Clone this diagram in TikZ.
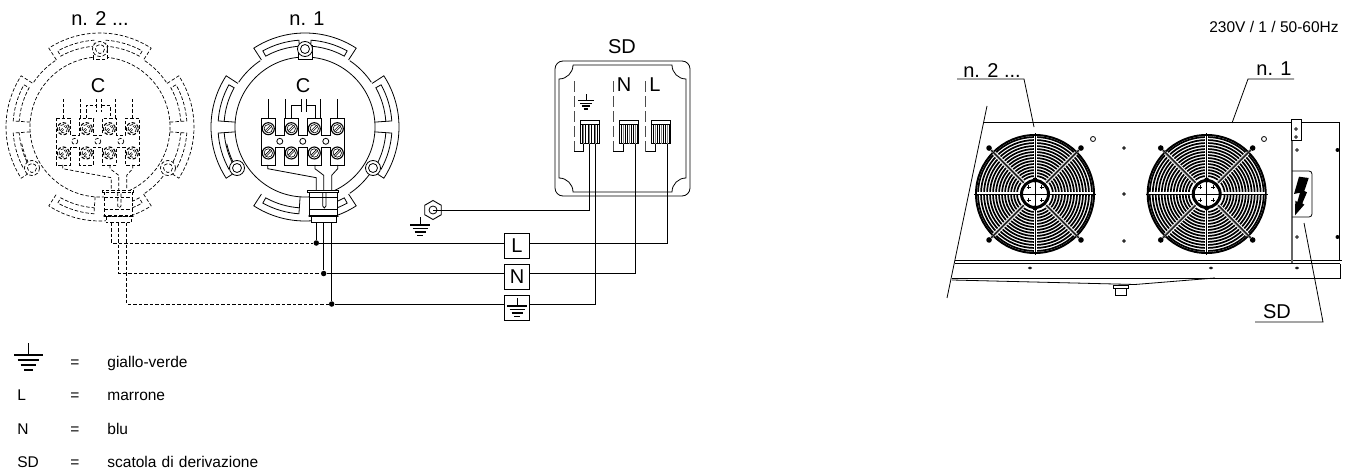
\documentclass[tikz,border=0pt]{standalone}
\usepackage{fontspec}
\setmainfont{Liberation Sans}
\usetikzlibrary{matrix,calc,positioning,shapes.geometric}
\newcommand{\lblfont}{\fontsize{20}{22}\selectfont}
\newcommand{\txtfont}{\fontsize{15.5}{17}\selectfont}
\tikzset{
    dashsty/.style={line width=.7pt,dash pattern=on 3.5pt off 2pt},
    sepsty/.style={line width=.7pt,draw=black!70,dash pattern=on 11pt off 4pt},
    dotsty/.style={fill,circle,inner sep=0pt,minimum size=5.5pt},
    boxsty/.style={draw,line width=.9pt,rectangle,minimum size=25.5pt,inner sep=0pt,font=\lblfont},
    lblsty/.style={inner sep=0pt,font=\lblfont},
    hexsty/.style={draw,line width=.9pt,regular polygon,regular polygon sides=6,shape border rotate=30,minimum size=19pt,inner sep=0pt},
    lgdsty/.style={inner sep=0pt,text height=11pt,text depth=3pt,anchor=west,align=left,font=\txtfont},
    pics/gndsym/.style={code={
        \draw[line width=.9pt] (0,-8) -- (0,0);
        \draw[line width=1.5pt] (-10,0) -- (10,0) (-7.5,3.5) -- (7.5,3.5) (-5.5,7) -- (5.5,7) (-3,10.5) -- (3,10.5);
    }},
    pics/jbox/.style={code={
        \draw (0,0) circle (70);
        % lobes
        \foreach \a in {0,90,180,270} {
            \draw (\a-33:80) -- (\a-33:94) arc[start angle=\a-33,end angle=\a+33,radius=94] -- (\a+33:80);
            \draw (\a+4:70) -- (\a+4:87) arc[start angle=\a+4,end angle=\a+29,radius=87] -- (\a+29:81) arc[start angle=\a+29,end angle=\a+4,radius=81];
            \draw (\a-4:70) -- (\a-4:87) arc[start angle=\a-4,end angle=\a-29,radius=87] -- (\a-29:81) arc[start angle=\a-29,end angle=\a-4,radius=81];
        }
        \foreach \a in {-56,-146,34,146} {
            \draw (\a:80) arc[start angle=\a,end angle=\a+22,radius=80];
        }
        % bolts
        \draw[fill=white] (-7,-68) rectangle (7,-82);
        \foreach \p in {(0,-78),(-68,41),(68,41)} {
            \draw[fill=white] \p circle (7.5);
            \draw \p circle (4.5);
        }
        % terminal block
        \draw (-44,-8.7) -- (-29.4,-8.7) -- (-29.4,8.3) -- (-21,8.3) -- (-21,-8.7) -- (-6.4,-8.7) -- (-6.4,8.3) -- (2,8.3) -- (2,-8.7) -- (16.6,-8.7) -- (16.6,8.3) -- (25,8.3) -- (25,-8.7) -- (39.6,-8.7)
            -- (39.6,38) -- (25,38) -- (25,20) -- (16.6,20) -- (16.6,38) -- (2,38) -- (2,20) -- (-6.4,20) -- (-6.4,38) -- (-21,38) -- (-21,20) -- (-29.4,20) -- (-29.4,38) -- (-44,38) -- cycle;
        \foreach \x in {-36.7,-13.7,9.3,32.3} {
            \foreach \y in {1.7,26} {
                \draw[line width=1.1pt] (\x,\y) circle (6);
                \draw[line width=.6pt] (\x,\y) circle (4.2);
                \draw[line width=.6pt] ($(\x,\y)+(-3.2,2)$) -- ($(\x,\y)+(2,-3.2)$) ($(\x,\y)+(-2,3.2)$) -- ($(\x,\y)+(3.2,-2)$);
            }
        }
        \foreach \x in {-25.2,-2.2,20.8} {
            \draw (\x,14.3) circle (3);
        }
        % wires inside
        \draw (-36.7,-8.7) -- (-36.7,-28) (-19.3,-8.7) -- (-19.3,-28) (15.3,-8.7) -- (15.3,-28) (32.7,-8.7) -- (32.7,-28);
        \draw (-14,-8.7) -- (-14,-21.7) -- (-3.3,-21.7) (1,-21.7) -- (10,-21.7) -- (10,-8.7);
        \draw (-3.3,-28) -- (-3.3,-15) (1,-28) -- (1,-15);
        \draw (-37.3,38) -- (-37.3,41.7) -- (11.3,50.7) -- (11.3,64);
        \draw (10,38) -- (10,41.7) -- (18.7,48.3) -- (18.7,64);
        \draw (32.7,38) -- (32.7,41.7) -- (26.7,48.3) -- (26.7,64);
        % gland
        \draw[fill=white] (4,64.7) rectangle (32.3,88);
        \draw[fill=white] (2.7,63) rectangle (33.7,65.5);
        \draw (4,70.3) -- (32.3,70.3) (4,82) -- (32.3,82);
        \draw (17.7,65.5) -- (17.7,79) -- (19.3,81) -- (21,79) -- (21,65.5);
        \draw[fill=white] (6,89) rectangle (31.7,95.7);
        \draw (4,88) -- (4,89.5) -- (33,89.5) -- (32.3,88);
        \coordinate (-wL) at (11.3,95.7);
        \coordinate (-wN) at (18.7,95.7);
        \coordinate (-wE) at (26.7,95.7);
    }},
    pics/sdterm/.style={code={
        \draw[line width=.9pt] (0,0) rectangle (19,23);
        \draw (0,4) -- (19,4);
        \foreach \x in {2,8,14} {
            \draw[line width=.8pt] (\x,4) rectangle ++(3.6,19);
            \draw[draw=black!50,line width=.8pt] (\x+1.8,4) -- (\x+1.8,23);
        }
        \draw[sepsty] (-6,-39.3) -- (-6,31);
        \draw (-6,31) -- (3.7,31) -- (3.7,23);
        \coordinate (-wA) at (9,23);
        \coordinate (-wB) at (15.7,23);
    }},
    pics/fan/.style={code={
        \foreach \r in {18,21,...,57} {
            \draw[line width=1.7pt] (0,0) circle (\r);
        }
        \draw[line width=2pt] (0,0) circle (59);
        \foreach \a in {45,135,225,315} {
            \draw[white,line width=4pt] (\a:16) -- (\a:58);
            \draw[black!60,line width=2.4pt] (\a:16) -- (\a:62);
            \draw[line width=.6pt] (\a:16) -- (\a:62);
            \fill (\a:65) circle (2.8);
        }
        \foreach \a in {0,90,180,270} {
            \draw[white,line width=3pt] (\a:16) -- (\a:58);
            \draw[line width=.9pt] (\a:12) -- (\a:61);
        }
        \draw[line width=3pt,fill=white] (0,0) circle (13.5);
        \draw[line width=.7pt] (-13,0) -- (13,0) (0,-13) -- (0,13);
        \fill (0,-14) circle (2.5) (0,14) circle (2.5);
        \foreach \x in {-6.5,6.5} {
            \foreach \y in {-6.5,6.5} {
                \draw[line width=.7pt] (\x-2,\y) -- (\x+2,\y) (\x,\y-2) -- (\x,\y+2);
            }
        }
    }},
}

\begin{document}
\begin{tikzpicture}[x=1pt,y=-1pt,line width=.8pt]
\useasboundingbox (0,0) rectangle (1351,473);

% junction boxes
\pic (jbB) [dashsty] at (100,127) {jbox};
\pic (jbA) at (305,127) {jbox};
\node (lblB) [lblsty] at (100,19) {n. 2 ...};
\node (lblA) [lblsty] at (307,19) {n. 1};
\node (capB) [lblsty] at (98,86) {C};
\node (capA) [lblsty] at (303,86) {C};

% SD box
\node (lblSD) [lblsty] at (622,47) {SD};
\draw (555,69) arc[start angle=180,end angle=270,radius=8] -- (682,61) arc[start angle=270,end angle=360,radius=8] -- (690,188) arc[start angle=0,end angle=90,radius=8] -- (563,196) arc[start angle=90,end angle=180,radius=8] -- cycle;
\draw (573,65) -- (672,65) arc[start angle=180,end angle=90,radius=14] -- (686,178) arc[start angle=270,end angle=180,radius=14] -- (573,192) arc[start angle=0,end angle=-90,radius=14] -- (559,79) arc[start angle=90,end angle=0,radius=14];
\node (sdN) [lblsty] at (624,85) {N};
\node (sdL) [lblsty] at (655,85) {L};
\pic[scale=.8] at (586,100.5) {gndsym};
\pic (tE) at (580,120.7) {sdterm};
\pic (tN) at (619.3,120.7) {sdterm};
\pic (tL) at (651.7,120.7) {sdterm};

% boxes and wires
\node (boxL) [boxsty] at (517,246) {L};
\node (boxN) [boxsty] at (517,277) {N};
\node (boxE) [boxsty] at (517,308) {};
\pic at (517,306) {gndsym};
\node (dotL) [dotsty] at (316.3,243) {};
\node (dotN) [dotsty] at (323.7,273.5) {};
\node (dotE) [dotsty] at (331.7,304) {};
\node (hexG) [hexsty] at (433,210) {};
\draw (hexG.center) circle (4);
\pic at (420,225) {gndsym};

\draw (jbA-wL) -- (dotL);
\draw (jbA-wN) -- (dotN);
\draw (jbA-wE) -- (dotE);
\draw (dotL) -- (dotL -| boxL.west);
\draw (dotN) -- (dotN -| boxN.west);
\draw (dotE) -- (dotE -| boxE.west);
\draw (dotL -| boxL.east) -| (tL-wB);
\draw (dotN -| boxN.east) -| (tN-wB);
\draw (dotE -| boxE.east) -| (tE-wB);
\draw (hexG.center) -| (tE-wA);
\draw[dashsty] (jbB-wL) |- (dotL);
\draw[dashsty] (jbB-wN) |- (dotN);
\draw[dashsty] (jbB-wE) |- (dotE);

% legend
\matrix (lgd) [matrix of nodes,
  nodes = {lgdsty},
  nodes in empty cells,
  inner sep = 0pt,
  row sep = 19.3pt,
  column 1/.style={nodes={text width=53pt}},
  column 2/.style={nodes={text width=37pt}},
  column 3/.style={nodes={text width=170pt}},
  ampersand replacement=\&,
  anchor=north west] at (17,356)
{
 \& = \& giallo-verde \\
L \& = \& marrone \\
N \& = \& blu \\
SD \& = \& scatola di derivazione \\
};
\pic[scale=1.45] at (28.5,355) {gndsym};

% unit
\node (lblV) [anchor=base east,inner sep=0pt,font=\txtfont] at (1339,33) {230V / 1 / 50-60Hz};
\draw (984,122) -- (1339,122);
\draw[line width=1pt] (1339,122) -- (1339,260);
\draw (987,106) -- (947,298);
\draw (955,260) -- (1342,260) (955,263.5) -- (1340,263.5);
\draw (952,278) -- (1340,278) -- (1340,263.5);
\draw (952,280) -- (1135,284.5) -- (1215,278);
\pic at (1035,194) {fan};
\pic at (1206.7,194) {fan};
\draw (1093,139) circle (2.5);
\draw (1264,139) circle (2.5);
\foreach \y in {148,194,241} {
    \draw[fill=black!40] (1124,\y) circle (1.4);
}
\foreach \x in {1030,1211,1297} {
    \draw (\x,268) circle (1.5 and 1);
}
\draw[fill=white,line width=.9pt] (1113,285) rectangle (1128,288);
\draw (1115,288) rectangle (1126,295);
% panel of SD
\draw[black!60,line width=1.2pt] (1292,122) -- (1292,263);
\draw[fill=white,line width=1pt] (1291,120) rectangle (1301,141);
\draw (1296,129) circle (1.4) (1296,137) circle (1.4) (1297,150) circle (1.4) (1297,237) circle (1.4);
\fill (1337.5,150) circle (2) (1337.5,237) circle (2);
\draw (1292,171) -- (1309,171) arc[start angle=270,end angle=360,radius=3] -- (1312,214) arc[start angle=0,end angle=90,radius=3] -- (1292,217);
\fill (1299,176.7) -- (1308.7,178) -- (1304.3,191) -- (1307,192.3) -- (1302.3,203.3) -- (1304.3,204.7) -- (1295,215.3) -- (1295.3,200.7) -- (1297.3,202) -- (1300,192.7) -- (1294,194) -- cycle;

% leaders
\node (lblFanB) [lblsty] at (992,71) {n. 2 ...};
\node (lblFanA) [lblsty] at (1274,69) {n. 1};
\node (lblPanel) [lblsty] at (1277,312) {SD};
\coordinate (fanB) at (1034,127);
\coordinate (fanA) at (1232,123);
\coordinate (panel) at (1304,223);
\coordinate (ulBa) at (957,79);
\coordinate (ulBb) at (1024,79);
\coordinate (ulAa) at (1294,79);
\coordinate (ulAb) at (1248,79);
\coordinate (ulSa) at (1255,322);
\coordinate (ulSb) at (1323,322);
\draw (ulBa) -- (ulBb) -- (fanB);
\draw (ulAa) -- (ulAb) -- (fanA);
\draw (ulSa) -- (ulSb) -- (panel);
\end{tikzpicture}
\end{document}
